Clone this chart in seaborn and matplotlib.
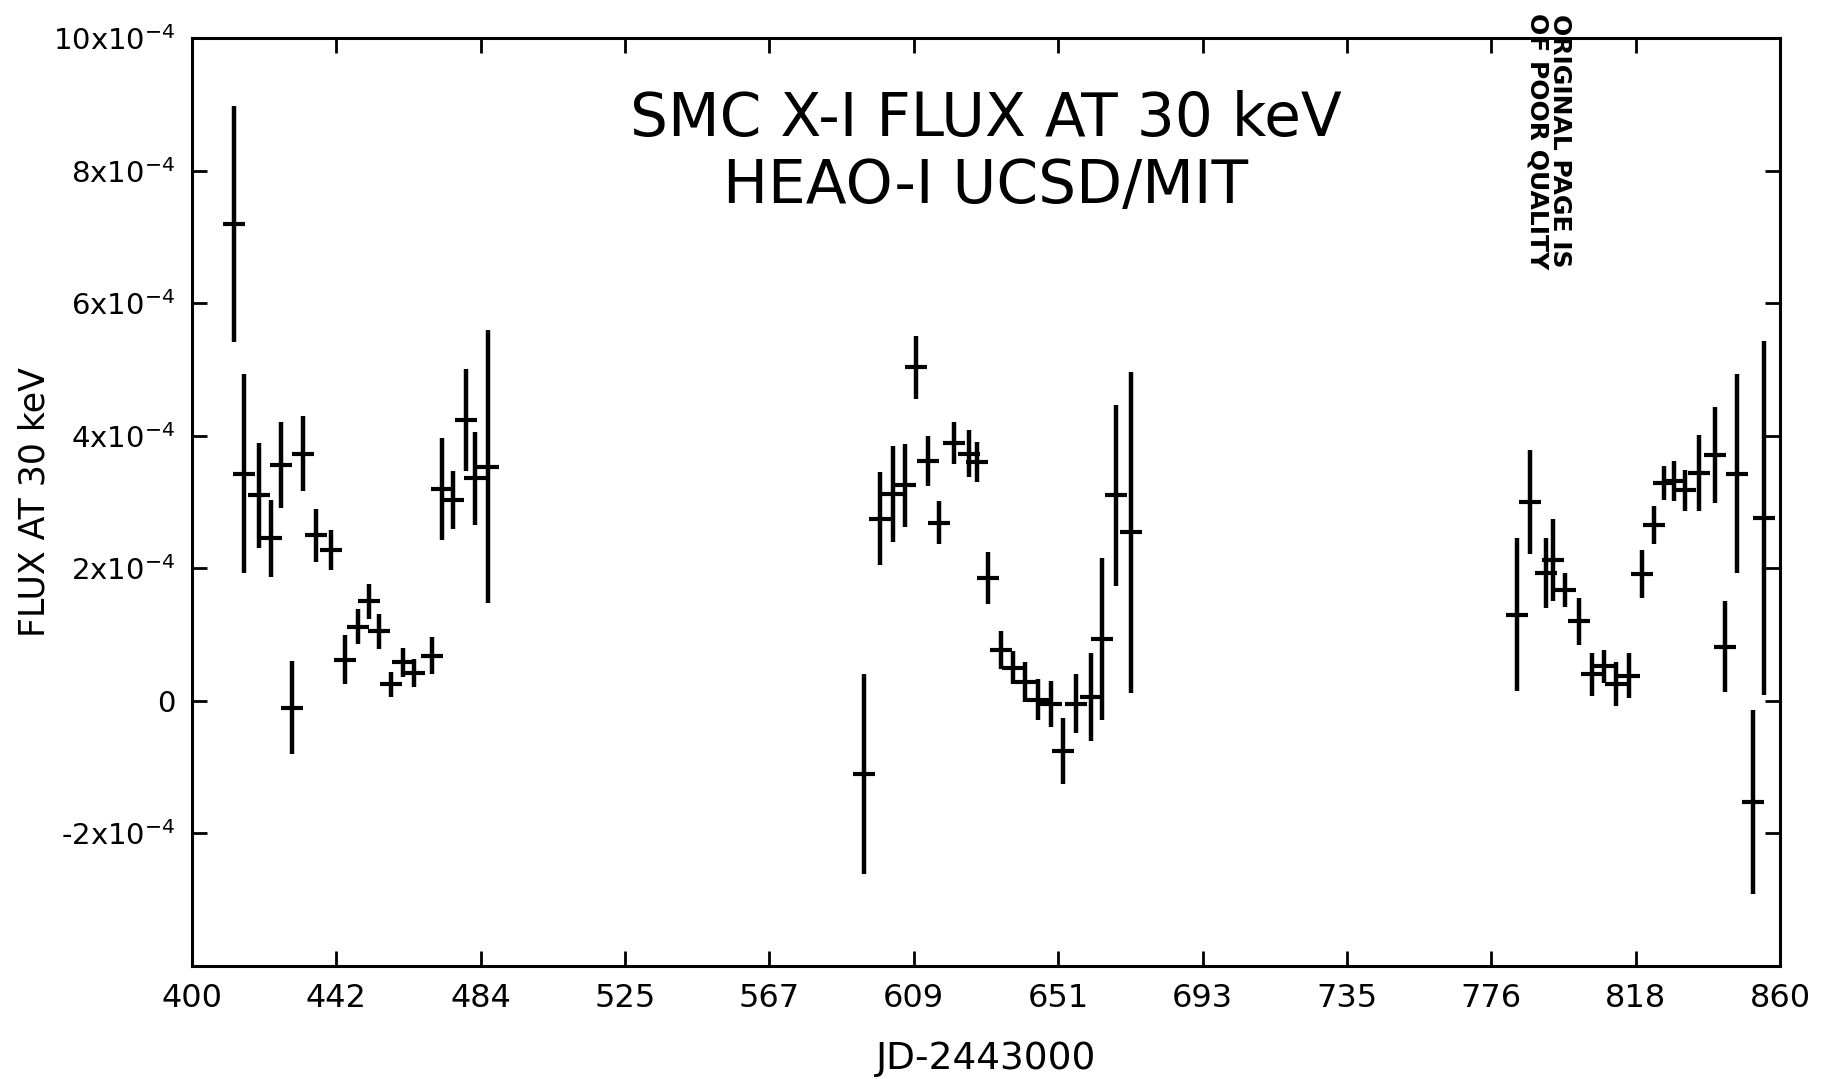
import matplotlib
matplotlib.use('Agg')
import matplotlib.pyplot as plt
import numpy as np
import pandas as pd
import seaborn as sns

# days (JD-2443000), flux in units of 1e-4, 1-sigma error in units of 1e-4
days = [412.1, 415.1, 419.5, 422.9, 425.9, 428.9, 432.3, 436.0, 440.3, 444.4,
        448.1, 451.4, 454.1, 457.8, 461.2, 464.2, 469.6, 472.3, 475.7, 479.4,
        482.0, 485.7,
        594.7, 599.4, 603.1, 606.5, 609.8, 613.2, 616.5, 620.6, 625.0, 627.3,
        630.7, 634.4, 637.7, 641.4, 645.1, 648.8, 652.2, 656.2, 660.3, 663.6,
        667.7, 672.0,
        783.8, 787.7, 792.1, 794.3, 797.8, 801.8, 805.5, 808.9, 812.6, 816.3,
        820.0, 823.4, 826.4, 829.4, 832.4, 836.5, 841.2, 844.2, 847.5, 852.3,
        855.3]
flux = [7.2, 3.43, 3.1, 2.45, 3.56, -0.1, 3.73, 2.5, 2.28, 0.62,
        1.12, 1.5, 1.05, 0.25, 0.58, 0.42, 0.68, 3.2, 3.03, 4.24,
        3.36, 3.53,
        -1.1, 2.75, 3.12, 3.25, 5.03, 3.62, 2.69, 3.89, 3.73, 3.6,
        1.85, 0.77, 0.5, 0.28, 0.02, -0.05, -0.76, -0.04, 0.06, 0.93,
        3.1, 2.54,
        1.3, 3.0, 1.93, 2.13, 1.67, 1.2, 0.4, 0.52, 0.26, 0.38,
        1.91, 2.65, 3.29, 3.32, 3.18, 3.44, 3.71, 0.82, 3.43, -1.53,
        2.76]
err = [1.78, 1.5, 0.79, 0.58, 0.65, 0.7, 0.57, 0.4, 0.3, 0.37,
       0.26, 0.26, 0.26, 0.19, 0.22, 0.21, 0.28, 0.77, 0.44, 0.77,
       0.7, 2.06,
       1.51, 0.7, 0.72, 0.62, 0.47, 0.38, 0.32, 0.31, 0.36, 0.3,
       0.39, 0.29, 0.25, 0.3, 0.31, 0.35, 0.5, 0.45, 0.66, 1.22,
       1.37, 2.42,
       1.15, 0.79, 0.53, 0.62, 0.26, 0.35, 0.32, 0.25, 0.33, 0.34,
       0.36, 0.29, 0.26, 0.3, 0.31, 0.57, 0.73, 0.69, 1.5, 1.39,
       2.67]

xtick_labels = ['400', '442', '484', '525', '567', '609', '651', '693',
                '735', '776', '818', '860']
ytick_vals = [-2, 0, 2, 4, 6, 8, 10]
ytick_labels = ['-2x10$^{-4}$', '0', '2x10$^{-4}$', '4x10$^{-4}$',
                '6x10$^{-4}$', '8x10$^{-4}$', '10x10$^{-4}$']

df = pd.DataFrame({'day': days, 'flux': np.array(flux) * 1e-4,
                   'err': np.array(err) * 1e-4})

sns.set_style('ticks')
plt.rcParams['font.family'] = ['DejaVu Sans']
plt.rcParams['mathtext.fontset'] = 'dejavusans'
plt.rcParams['text.color'] = 'black'
plt.rcParams['axes.labelcolor'] = 'black'

fig = plt.figure(figsize=(18.21, 10.79), dpi=100)
ax = fig.add_axes([0.1054, 0.1047, 0.8721, 0.8601])

ax.errorbar(df['day'], df['flux'], yerr=df['err'], fmt='none',
            ecolor='black', elinewidth=3.2, capsize=0)
sns.scatterplot(data=df, x='day', y='flux', marker='_', s=260,
                color='black', linewidth=3, ax=ax, zorder=3)

ax.set_xlim(400, 860)
ax.set_ylim(-4e-4, 10e-4)
ax.set_xticks(np.linspace(400, 860, len(xtick_labels)))
ax.set_xticklabels(xtick_labels)
ax.set_yticks(np.array(ytick_vals) * 1e-4)
ax.set_yticklabels(ytick_labels)
ax.tick_params(direction='in', length=11, width=2, labelsize=23,
               top=True, right=True, color='black', labelcolor='black')
ax.tick_params(axis='x', pad=12)
ax.tick_params(axis='y', pad=12, labelsize=21)
for sp in ax.spines.values():
    sp.set_visible(True)
    sp.set_linewidth(2.2)
    sp.set_color('black')

ax.set_xlabel('JD-2443000', fontsize=27, va='center')
ax.xaxis.set_label_coords(0.5, -0.1)
ax.set_ylabel('FLUX AT 30 keV', fontsize=25, va='center')
ax.yaxis.set_label_coords(-0.099, 0.5)

ax.text(0.5, 0.912, 'SMC X-I FLUX AT 30 keV', transform=ax.transAxes,
        ha='center', va='center', fontsize=43)
ax.text(0.5, 0.84, 'HEAO-I UCSD/MIT', transform=ax.transAxes,
        ha='center', va='center', fontsize=43)

fig.text(0.8505, 0.988, 'ORIGINAL PAGE IS\nOF POOR QUALITY', rotation=-90,
         ha='center', va='top', fontsize=18, fontweight='bold',
         linespacing=0.95)

fig.savefig('out.png', dpi=100, facecolor='white')
